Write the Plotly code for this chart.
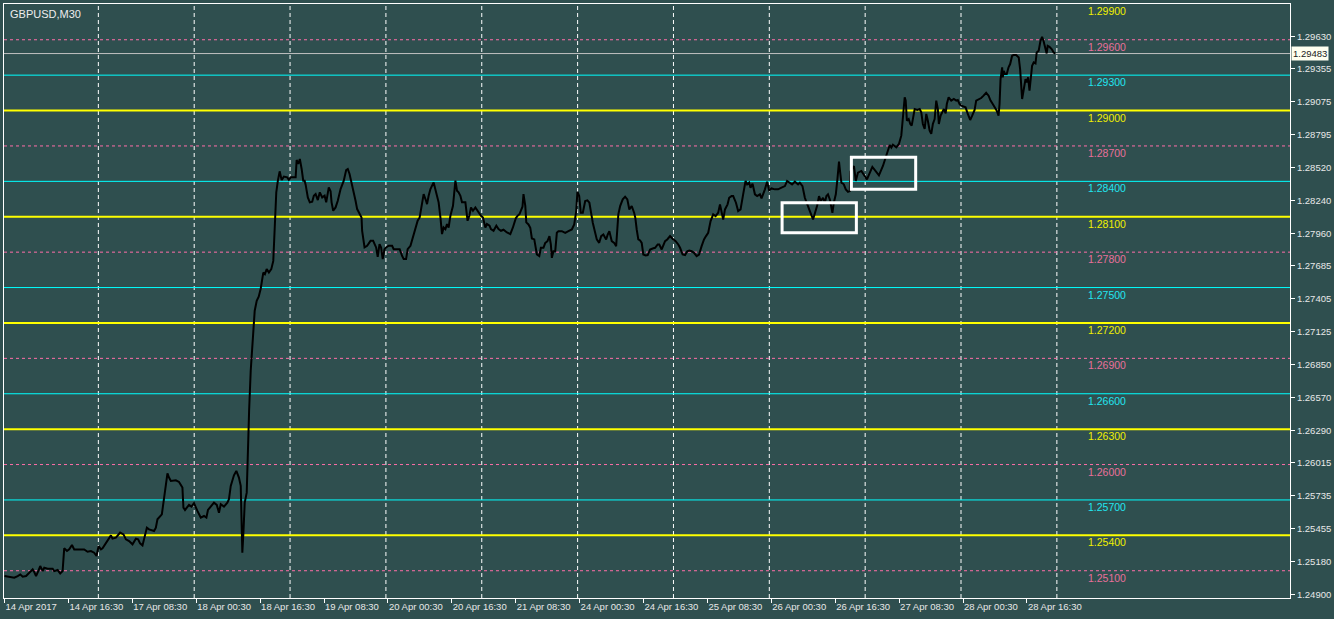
import plotly.graph_objects as go

# ---------------- data ----------------
title_text = "GBPUSD,M30"

bar = [0, 1.6, 3.3, 4.9, 6.6, 7.9, 9.1, 10.8, 12.4, 14.1, 14.9, 15.8, 16.9, 17.9, 19.1, 19.9, 21.6, 24.1, 24.9, 26.6,
       27.9, 29.1, 29.9, 31.3, 32.4, 33.8, 34.9, 36.6, 38.3, 39.9, 41.6, 43.3, 44.9, 46.1, 47.1, 48.3, 49.1, 50.4, 51.6, 53.3,
       54.1, 55.8, 57.9, 59.6, 60.8, 62.4, 64.1, 65.8, 66.9, 67.9, 69.1, 70.3, 71.3, 72.4, 74.9, 75.8, 76.6, 78.8, 79.6, 80.8,
       81.6, 82.4, 83.3, 85.8, 87.4, 89.1, 89.6, 90.4, 92.4, 93.6, 94.9, 96.6, 98.3, 99.9, 101.1, 101.9, 103.6, 104.9, 106.3, 107.4,
       108.3, 109.9, 111.6, 112.4, 113.3, 114.9, 116.1, 117.4, 118.3, 118.6, 119.1, 119.6, 120.3, 121.3,
       121.8, 122.5, 123.3, 124.3, 125.3, 126.3, 127.3, 128.3,
       129.1, 129.6, 130.4, 131.3, 132.4, 133.6, 134.6, 135.4, 136.1, 136.9, 137.8, 138.3, 138.8, 139.9, 141.6, 142.4, 143.3, 145.8,
       146.3, 147.1, 147.9, 148.8, 149.6, 150.3, 150.8, 151.9, 152.9, 154.1, 154.9, 155.8, 156.9, 157.9, 159.1, 160.3, 161.1, 162.4,
       163.3, 163.8, 164.6, 165.8, 166.9, 168.3, 169.9, 171.1, 171.9, 172.8, 173.6, 174.6, 175.8, 176.6, 178.8, 179.1, 180.3, 181.6,
       183.3, 184.6, 186.1, 186.9, 187.8, 188.6, 189.4, 190.3, 191.1, 192.4, 194.1, 194.9, 197.9, 199.1, 199.9, 201.1, 201.9, 203.3,
       204.6, 205.8, 206.9, 207.9, 209.1, 209.9, 211.1, 211.6, 212.4, 213.3, 214.9, 215.8, 216.6, 217.4, 218.3, 219.1, 219.9, 220.8,
       221.6, 222.4, 223.3, 224.6, 225.8, 226.6, 227.4, 228.3, 229.1, 230.8, 231.9, 232.8, 233.6, 234.6, 235.8, 237.4, 238.6, 239.6,
       240.8, 241.6, 242.9, 243.6, 244.9, 246.3, 247.4, 248.6, 249.9, 251.6, 253.3, 254.6, 256.1, 256.9, 257.9, 258.6, 259.4, 259.9,
       260.8, 261.3, 262.4, 263.3, 264.1, 265.3, 265.8, 266.6, 267.8, 268.6, 269.9, 270.8, 271.9, 272.9, 273.6, 274.1, 274.9, 275.8,
       276.6, 277.4, 279.1, 280.8, 282.4, 284.1, 285.3, 286.3, 286.9, 287.8, 288.6, 289.6, 290.8, 291.9, 292.9, 293.6, 294.6, 295.8,
       296.6, 297.8, 298.8, 299.9, 301.3, 302.1, 302.9, 304.1, 305.3, 306.3, 307.4, 308.3, 309.6, 310.8, 311.9, 312.9, 314.1, 315.3,
       315.9, 316.6, 317.4, 318.3, 319.1, 319.9, 321.1, 322.1, 323.3, 324.6, 325.8, 327.1, 327.9, 329.1, 329.9, 330.8, 331.9, 333.3,
       334.9, 336.1, 337.4, 338.3, 339.6, 340.8, 341.9, 342.9, 344.1, 345.3, 346.6, 347.8, 349.1, 350.3, 351.3, 352.4, 353.6, 354.9,
       356.1, 357.4, 358.3, 359.1, 359.9, 360.8, 362.1, 362.9, 364.1, 364.9, 366.3, 367.4, 368.6, 369.9, 371.1, 371.9, 372.9, 373.6,
       374.6, 375.8, 376.9, 378.3, 379.1, 380.8, 381.9, 382.9, 384.1, 385.8, 387.4, 389.1, 390.8, 391.9, 393.3, 394.4, 395.8, 397.4,
       398.3, 399.6, 400.8, 401.6, 403.3, 404.9, 405.8, 406.9, 407.9, 408.8, 409.9, 410.8, 411.6, 412.4, 413.3, 414.1, 414.6, 415.3,
       416.3, 417.1, 417.9, 418.6, 419.1, 420.3, 421.3, 422.4, 423.3, 423.6, 425.4, 426.3, 427.4, 429.1, 431.9, 434.6, 436.3, 437.9,
       439.9, 441.6, 443.3, 444.1, 444.9, 446.6, 447.9, 449.1, 449.9, 450.8, 451.3, 451.9, 452.8, 453.6, 454.3, 454.9, 455.8, 457.1,
       458.3, 459.1, 459.9, 460.8, 461.6, 462.4, 463.3, 464.1, 464.9, 465.8, 466.6, 467.4, 467.9, 468.8, 469.6, 470.4, 471.3, 471.9,
       472.8, 474.1, 475.4, 476.6, 477.4, 478.3, 479.1, 480.3, 481.3, 482.4, 483.6, 484.6, 485.8, 486.6, 487.4, 489.1, 490.3, 491.6,
       492.8, 493.8, 494.9, 495.9, 496.9, 497.8, 498.3, 498.8, 499.6, 499.9, 500.4, 501.1, 501.9, 502.8, 503.6, 504.6, 505.3, 506.6,
       507.9, 508.6, 509.1, 509.6, 510.3, 511.3, 511.9, 512.6, 513.3, 513.8, 514.6, 515.4, 516.3, 516.9, 517.9, 518.8, 519.6, 520.3,
       521.3, 521.9, 522.4, 523.3, 524.4, 525.4, 526.3]

price = [1.25055, 1.25049, 1.25041, 1.25041, 1.25055, 1.25069, 1.25049, 1.25055, 1.25083, 1.25111, 1.25089, 1.25055, 1.25097, 1.2514, 1.25097, 1.25125, 1.25117, 1.25117, 1.25097, 1.25106,
         1.25077, 1.25097, 1.2529, 1.25267, 1.25281, 1.25318, 1.25281, 1.25281, 1.25275, 1.25281, 1.25261, 1.25267, 1.25253, 1.25225, 1.25309, 1.25281, 1.2529, 1.25324, 1.25352, 1.254,
         1.25372, 1.2538, 1.25423, 1.25408, 1.25366, 1.25352, 1.25324, 1.25372, 1.25366, 1.25332, 1.25315, 1.25408, 1.25465, 1.25451, 1.25437, 1.25465, 1.25536, 1.25578, 1.25677, 1.25833,
         1.25926, 1.2589, 1.25861, 1.25867, 1.25853, 1.25805, 1.25635, 1.25615, 1.25658, 1.25643, 1.25672, 1.25607, 1.2555, 1.25564, 1.2555, 1.25615, 1.25649, 1.25677, 1.25658, 1.25592,
         1.25663, 1.25643, 1.25677, 1.25706, 1.25819, 1.25909, 1.25946, 1.2589, 1.25819, 1.2555, 1.25253, 1.25408, 1.25677, 1.25762,
         1.2612, 1.26458, 1.26796, 1.27092, 1.27304, 1.27388, 1.27422, 1.2749,
         1.27557, 1.27627, 1.27613, 1.27656, 1.27627, 1.27656, 1.27726, 1.27981, 1.28307, 1.28406, 1.28485, 1.28448, 1.28411, 1.2844, 1.28434, 1.28414, 1.28434, 1.28434,
         1.28581, 1.28547, 1.2859, 1.28505, 1.28406, 1.28406, 1.28372, 1.28264, 1.28222, 1.28227, 1.28278, 1.28292, 1.28241, 1.28307, 1.28264, 1.28278, 1.28222, 1.28349,
         1.28315, 1.28222, 1.28151, 1.28179, 1.28236, 1.28335, 1.28406, 1.28496, 1.28505, 1.28462, 1.28406, 1.28321, 1.28236, 1.28165, 1.28094, 1.27981, 1.2784, 1.27854,
         1.27896, 1.27896, 1.2784, 1.2776, 1.27868, 1.2784, 1.27741, 1.27825, 1.2784, 1.27854, 1.27854, 1.27825, 1.27825, 1.27769, 1.27741, 1.27741, 1.27825, 1.27854,
         1.27925, 1.28009, 1.28066, 1.28094, 1.28236, 1.28292, 1.28236, 1.28207, 1.28278, 1.28335, 1.28391, 1.28335, 1.28264, 1.28222, 1.28094, 1.27953, 1.28009, 1.27995,
         1.28038, 1.28009, 1.28108, 1.28193, 1.28406, 1.28321, 1.28307, 1.28278, 1.28222, 1.28222, 1.28066, 1.28108, 1.28179, 1.28151, 1.28179, 1.28137, 1.28108, 1.28094,
         1.28009, 1.28038, 1.28024, 1.27995, 1.27981, 1.28024, 1.27995, 1.27981, 1.2799, 1.27967, 1.27953, 1.28009, 1.28089, 1.28108, 1.28123, 1.28151, 1.28185, 1.28292,
         1.28193, 1.28052, 1.28035, 1.28007, 1.27916, 1.27908, 1.27851, 1.2778, 1.27766, 1.27837, 1.27837, 1.27879, 1.27893, 1.27936, 1.27865, 1.27752, 1.27808, 1.27808,
         1.27964, 1.27978, 1.27978, 1.27964, 1.27978, 1.27992, 1.28035, 1.28148, 1.28312, 1.28275, 1.28134, 1.28134, 1.28233, 1.28239, 1.28219, 1.28134, 1.28049, 1.27964,
         1.27908, 1.27879, 1.27936, 1.2795, 1.27908, 1.2795, 1.27978, 1.27893, 1.27879, 1.27851, 1.2812, 1.28191, 1.28247, 1.2827, 1.28247, 1.28162, 1.28191, 1.28134,
         1.28091, 1.27992, 1.27908, 1.27899, 1.27879, 1.2778, 1.27772, 1.27775, 1.27823, 1.27831, 1.27837, 1.27865, 1.27865, 1.27823, 1.27851, 1.27893, 1.27908, 1.27936,
         1.27908, 1.27893, 1.27865, 1.27837, 1.2778, 1.27775, 1.27808, 1.27814, 1.27808, 1.27794, 1.27766, 1.2778, 1.27851, 1.27908, 1.27936, 1.27964, 1.28063, 1.2812,
         1.28106, 1.28134, 1.28205, 1.28134, 1.28077, 1.28162, 1.28205, 1.28261, 1.28275, 1.28275, 1.28219, 1.28148, 1.28162, 1.2829, 1.28403, 1.28374, 1.28389, 1.28346,
         1.2838, 1.2829, 1.28275, 1.2829, 1.28256, 1.28332, 1.28397, 1.28324, 1.2834, 1.28332, 1.28332, 1.28346, 1.2836, 1.28403, 1.28389, 1.28374, 1.28397, 1.28374,
         1.28389, 1.2836, 1.28261, 1.28219, 1.28148, 1.28077, 1.2812, 1.28191, 1.28275, 1.28233, 1.28261, 1.28219, 1.28275, 1.2829, 1.28247, 1.28191, 1.28134, 1.28219,
         1.2829, 1.28417, 1.28567, 1.28459, 1.28389, 1.28375, 1.28332, 1.28312, 1.28318, 1.28482, 1.2853, 1.28403, 1.28474, 1.28488, 1.28417, 1.28522, 1.28488, 1.28451,
         1.2853, 1.28615, 1.28708, 1.28686, 1.28711, 1.28689, 1.28717, 1.28787, 1.28943, 1.29112, 1.29084, 1.28914, 1.28928, 1.28886, 1.28872, 1.28928, 1.29013, 1.29005,
         1.29013, 1.28985, 1.28886, 1.28844, 1.28971, 1.28914, 1.2883, 1.28802, 1.28886, 1.28928, 1.29084, 1.29013, 1.28886, 1.28957, 1.28985, 1.29013, 1.28976, 1.29055,
         1.29112, 1.29084, 1.29098, 1.29084, 1.29089, 1.29055, 1.29041, 1.29033, 1.29027, 1.28971, 1.2892, 1.28957, 1.29005, 1.29084, 1.29089, 1.29106, 1.29126, 1.29151,
         1.29126, 1.29084, 1.29055, 1.29027, 1.28999, 1.28957, 1.29055, 1.29267, 1.29366, 1.29281, 1.29337, 1.29309, 1.29309, 1.29366, 1.29394, 1.29464, 1.2947, 1.2947,
         1.2945, 1.29351, 1.29239, 1.29098, 1.29168, 1.29267, 1.29239, 1.29281, 1.29168, 1.29253, 1.2938, 1.29408, 1.29399, 1.29492, 1.29507, 1.29591, 1.29625, 1.29591,
         1.29521, 1.29484, 1.29549, 1.2954, 1.29521, 1.29492, 1.29483]

current_price = 1.29483

yellow_levels = [1.2540, 1.2630, 1.2720, 1.2810, 1.2900, 1.2990]
cyan_levels = [1.2570, 1.2660, 1.2750, 1.2840, 1.2930]
pink_levels = [1.2510, 1.2600, 1.2690, 1.2780, 1.2870, 1.2960]

y_ticks = [1.29630, 1.29355, 1.29075, 1.28795, 1.28520, 1.28240, 1.27960, 1.27685, 1.27405,
           1.27125, 1.26850, 1.26570, 1.26290, 1.26015, 1.25735, 1.25455, 1.25180, 1.24900]

x_tick_bars = [0, 32, 64, 96, 128, 160, 192, 224, 256, 288, 320, 352, 384, 416, 448, 480, 512]
x_tick_labels = ["14 Apr 2017", "14 Apr 16:30", "17 Apr 08:30", "18 Apr 00:30", "18 Apr 16:30",
                 "19 Apr 08:30", "20 Apr 00:30", "20 Apr 16:30", "21 Apr 08:30", "24 Apr 00:30",
                 "24 Apr 16:30", "25 Apr 08:30", "26 Apr 00:30", "26 Apr 16:30", "27 Apr 08:30",
                 "28 Apr 00:30", "28 Apr 16:30"]

grid_bars = [47, 95, 143, 191, 239, 287, 335, 383, 431, 479, 527]

# highlight boxes: (bar start, bar end, price low, price high)
box_bar0 = [389.4, 424.1]
box_bar1 = [426.6, 456.3]
box_low = [1.27965, 1.28332]
box_high = [1.28219, 1.28605]

# ---------------- styling ----------------
BG = "#2F4F4F"
YELLOW = "#FFFF00"
CYAN = "#00FFFF"
PINK_LINE = "#FF6EA8"
PINK_TEXT = "#E8709A"
FONT = "Liberation Sans"
Y_RANGE = [1.24869, 1.29903]
VISIBLE_TOP = 1.29895  # lines above this sit under the chart frame

fig = go.Figure()
fig.add_trace(go.Scatter(x=bar, y=price, mode="lines",
                         line=dict(color="#000000", width=2), hoverinfo="skip", showlegend=False))

shapes = []
annotations = []

for g in grid_bars:
    shapes.append(dict(type="line", xref="x", yref="paper", x0=g, x1=g, y0=0, y1=1,
                       line=dict(color="#FFFFFF", width=1, dash="4px,3px"), layer="below"))

def add_level(lv, color, width, dash, text_color):
    if lv < VISIBLE_TOP:
        shapes.append(dict(type="line", xref="paper", yref="y", x0=0, x1=1, y0=lv, y1=lv,
                           line=dict(color=color, width=width, dash=dash), layer="below"))
    annotations.append(dict(xref="paper", yref="y", x=0.8414, y=lv, xanchor="left", yanchor="middle",
                            yshift=-7, text=f"{lv:.5f}", showarrow=False,
                            font=dict(family=FONT, size=10.5, color=text_color)))

for lv in yellow_levels:
    add_level(lv, YELLOW, 2, "solid", "#F0F000")
for lv in cyan_levels:
    add_level(lv, CYAN, 1, "solid", "#22E6F0")
for lv in pink_levels:
    add_level(lv, PINK_LINE, 1, "3px,3px", PINK_TEXT)

# bid line
shapes.append(dict(type="line", xref="paper", yref="y", x0=0, x1=1, y0=current_price, y1=current_price,
                   line=dict(color="#C0C0C0", width=1), layer="below"))

# highlight rectangles
for b0, b1, lo, hi in zip(box_bar0, box_bar1, box_low, box_high):
    shapes.append(dict(type="rect", xref="x", yref="y", x0=b0, x1=b1, y0=lo, y1=hi,
                       line=dict(color="#FFFFFF", width=3), fillcolor="rgba(0,0,0,0)", layer="above"))

# title
annotations.append(dict(xref="paper", yref="paper", x=0.0033, y=1, xanchor="left", yanchor="top",
                        yshift=-2, text=title_text, showarrow=False,
                        font=dict(family=FONT, size=11, color="#EDEDED")))

# current price label
annotations.append(dict(xref="paper", yref="y", x=1, y=current_price, xanchor="left", yanchor="middle",
                        xshift=1, text=f"{current_price:.5f}", showarrow=False, bgcolor="#FFFFF0",
                        borderpad=1, font=dict(family=FONT, size=9.5, color="#1A1A1A")))

fig.update_layout(
    width=1334, height=619,
    margin=dict(l=3, r=43, t=3, b=21, pad=0),
    paper_bgcolor=BG, plot_bgcolor=BG,
    font=dict(family=FONT, color="#E8E8E8"),
    shapes=shapes, annotations=annotations,
    showlegend=False,
    xaxis=dict(range=[-0.25, 643.75], showgrid=False, zeroline=False,
               tickmode="array", tickvals=x_tick_bars, ticktext=x_tick_labels,
               ticks="outside", ticklen=4, tickcolor="#FFFFFF",
               ticklabelposition="outside right",
               tickfont=dict(family=FONT, size=9.5, color="#E8E8E8"),
               showline=True, linecolor="#FFFFFF", linewidth=1, mirror=True, fixedrange=True),
    yaxis=dict(range=Y_RANGE, side="right", showgrid=False, zeroline=False,
               tickmode="array", tickvals=y_ticks, ticktext=[f"{v:.5f}" for v in y_ticks],
               ticks="outside", ticklen=4, tickcolor="#FFFFFF",
               tickfont=dict(family=FONT, size=9.5, color="#E8E8E8"),
               showline=True, linecolor="#FFFFFF", linewidth=1, mirror=True, fixedrange=True),
)

fig.write_html("out.html", config={"displayModeBar": False},
               post_script="document.body.style.margin='0';document.body.style.overflow='hidden';")
